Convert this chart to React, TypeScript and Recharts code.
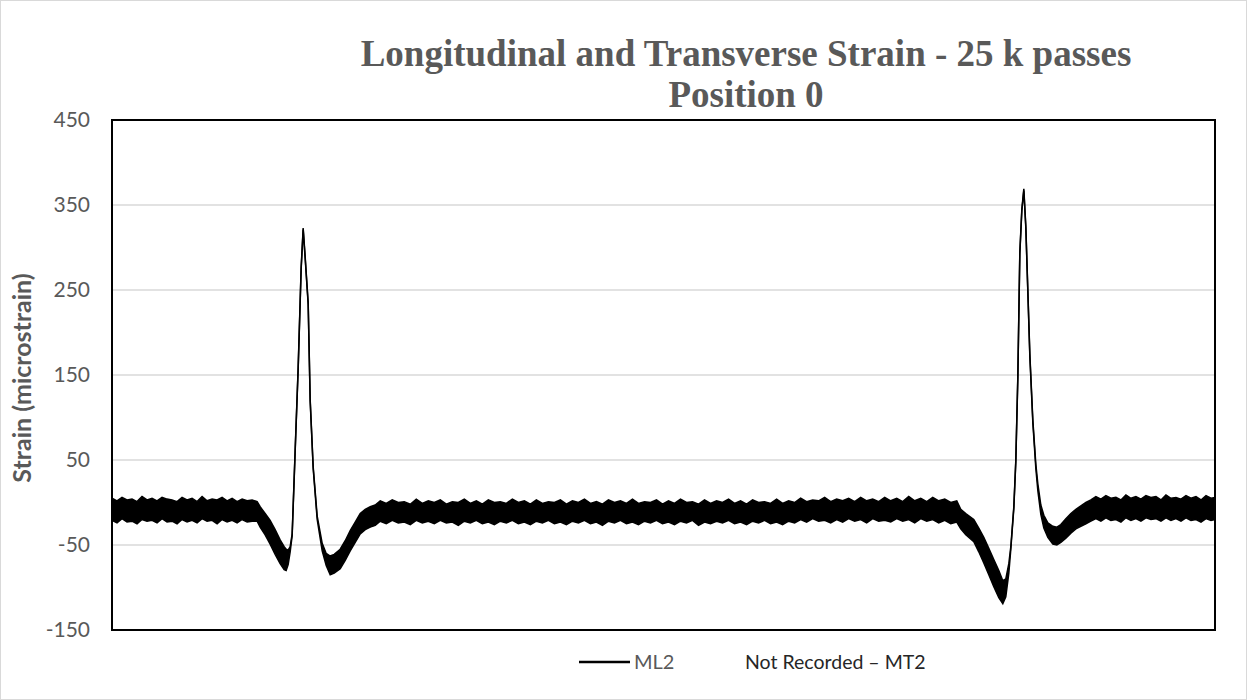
import React from 'react';
import { ComposedChart, Area, XAxis, YAxis, CartesianGrid } from 'recharts';

// x = sample position along the record, band = noisy strain envelope (microstrain)
const leftFlatX = [0, 5, 10, 15, 20, 25, 30, 35, 40, 45, 50, 55, 60, 65, 70, 75, 80, 85, 90, 95, 100, 105, 110, 115, 120, 125, 130, 135, 140];
const leftFlatHi = [5, 2, 6, 3, 4, 1, 7, 3, 5, 2, 6, 4, 3, 1, 6, 3, 5, 1, 7, 2, 4, 3, 6, 2, 5, 1, 4, 2, 3];
const leftFlatLo = [-21, -24, -19, -23, -22, -25, -20, -22, -21, -24, -19, -23, -22, -25, -20, -23, -21, -24, -19, -22, -21, -25, -20, -23, -21, -24, -20, -23, -22];

const leftPeakX = [145, 148, 153, 158, 163, 168, 172, 174, 176, 178, 180, 183, 186, 189, 191, 193, 196, 198, 201, 205, 210, 214, 218, 222, 228, 233, 238, 243, 248, 253, 258, 263];
const leftPeakHi = [1, -5, -13, -21, -32, -44, -52, -55, -56, -52, -37, 62, 159, 277, 323, 289, 235, 121, 42, -16, -48, -60, -63, -61, -55, -45, -33, -23, -13, -8, -5, -3];
const leftPeakLo = [-22, -29, -38, -49, -61, -72, -79, -80, -73, -58, -39, 60, 157, 275, 321, 287, 233, 119, 40, -20, -57, -74, -85, -83, -78, -68, -57, -47, -37, -32, -29, -27];

const midFlatX = [
  268, 274, 280, 286, 292, 298, 304, 310, 316, 322, 328, 334, 340, 346, 352, 358, 364, 370, 376, 382,
  388, 394, 400, 406, 412, 418, 424, 430, 436, 442, 448, 454, 460, 466, 472, 478, 484, 490, 496, 502,
  508, 514, 520, 526, 532, 538, 544, 550, 556, 562, 568, 574, 580, 586, 592, 598, 604, 610, 616, 622,
  628, 634, 640, 646, 652, 658, 664, 670, 676, 682, 688, 694, 700, 706, 712, 718, 724, 730, 736, 742,
  748, 754, 760, 766, 772, 778, 784, 790, 796, 802, 808, 814, 820, 826, 832, 838, 844,
];
const midFlatHi = [
  2, -1, 3, 0, 1, -2, 4, -1, 2, 0, 3, -2, 1, 0, 4, -1, 2, -2, 3, 0,
  1, -1, 4, 0, 2, -2, 3, -1, 1, 0, 3, -2, 2, 0, 4, -1, 1, -2, 3, 0,
  2, -1, 4, -1, 1, 0, 3, -2, 2, -1, 4, 0, 1, -2, 3, -1, 2, 0, 4, -1,
  2, -2, 3, 0, 1, -1, 4, -1, 2, 0, 5, 1, 3, 2, 6, 1, 4, 2, 5, 1,
  6, 2, 4, 1, 6, 2, 5, 1, 7, 2, 5, 1, 6, 2, 4, 0, 2,
];
const midFlatLo = [
  -22, -25, -21, -24, -23, -26, -21, -24, -22, -25, -21, -24, -23, -27, -22, -24, -21, -25, -23, -26,
  -22, -24, -21, -25, -23, -26, -22, -24, -21, -25, -23, -26, -22, -24, -21, -25, -23, -27, -22, -24,
  -21, -25, -23, -26, -22, -24, -21, -25, -23, -26, -22, -24, -21, -27, -23, -25, -22, -24, -21, -25,
  -23, -26, -22, -24, -21, -25, -23, -26, -22, -24, -20, -23, -19, -22, -21, -24, -20, -23, -19, -22,
  -20, -24, -19, -22, -21, -23, -19, -22, -20, -24, -19, -22, -20, -24, -21, -25, -23,
];

const rightPeakX = [848, 853, 861, 866, 871, 876, 881, 886, 890, 893, 896, 898, 901, 903, 905, 907, 909, 911, 913, 915, 917, 920, 923, 925, 928, 931, 935, 940, 944, 948, 953, 958, 963, 968, 973, 978];
const rightPeakHi = [-8, -13, -20, -30, -41, -54, -67, -80, -92, -90, -72, -52, -5, 50, 148, 294, 345, 369, 325, 250, 175, 97, 45, 22, -3, -15, -24, -28, -29, -26, -19, -13, -8, -4, 0, 3];
const rightPeakLo = [-31, -38, -46, -58, -71, -85, -99, -112, -119, -111, -83, -55, -7, 48, 146, 292, 343, 367, 323, 248, 172, 94, 40, 14, -14, -30, -41, -49, -50, -47, -42, -36, -31, -28, -25, -22];

const rightFlatX = [983, 988, 993, 998, 1003, 1008, 1013, 1018, 1023, 1028, 1033, 1038, 1043, 1048, 1053, 1058, 1063, 1068, 1073, 1078, 1083, 1088, 1093, 1098, 1102];
const rightFlatHi = [7, 4, 8, 5, 6, 3, 9, 5, 7, 4, 8, 6, 7, 3, 9, 5, 6, 4, 8, 5, 7, 3, 8, 5, 6];
const rightFlatLo = [-19, -22, -18, -21, -20, -23, -18, -21, -19, -22, -18, -20, -19, -22, -18, -21, -19, -22, -18, -21, -20, -23, -19, -21, -20];

const yTicks = [-150, -50, 50, 150, 250, 350, 450];

const sampleX = [...leftFlatX, ...leftPeakX, ...midFlatX, ...rightPeakX, ...rightFlatX];
const upper = [...leftFlatHi, ...leftPeakHi, ...midFlatHi, ...rightPeakHi, ...rightFlatHi];
const lower = [...leftFlatLo, ...leftPeakLo, ...midFlatLo, ...rightPeakLo, ...rightFlatLo];

const data = sampleX.map((x, i) => ({ x, band: [lower[i], upper[i]] }));

const sans = 'Lato, "Open Sans", sans-serif';
const serif = '"Liberation Serif", "Times New Roman", serif';

export default function App() {
  return (
    <div
      style={{
        position: 'absolute',
        left: 0,
        top: 0,
        width: 1247,
        height: 700,
        boxSizing: 'border-box',
        border: '1px solid #d9d9d9',
        background: '#fff',
      }}
    >
      <div style={{ position: 'absolute', left: -1, top: -1 }}>
        <ComposedChart width={1247} height={700} data={data} margin={{ top: 120, right: 32, bottom: 70, left: 0 }}>
          <CartesianGrid vertical={false} stroke="#d9d9d9" strokeWidth={1.5} />
          <XAxis type="number" dataKey="x" domain={[0, 1102]} hide />
          <YAxis
            type="number"
            domain={[-150, 450]}
            ticks={yTicks}
            interval={0}
            width={112}
            axisLine={false}
            tickLine={false}
            tickSize={0}
            tickMargin={22}
            tick={{ fill: '#595959', fontSize: 21, fontFamily: sans }}
          />
          <Area
            type="linear"
            dataKey="band"
            name="ML2"
            stroke="#000"
            strokeWidth={1.5}
            fill="#000"
            fillOpacity={1}
            dot={false}
            activeDot={false}
            isAnimationActive={false}
          />
        </ComposedChart>
      </div>

      {/* plot frame */}
      <div
        style={{
          position: 'absolute',
          left: 110,
          top: 118,
          width: 1105,
          height: 512,
          boxSizing: 'border-box',
          border: '2px solid #000',
          pointerEvents: 'none',
        }}
      />

      <svg width={1247} height={700} style={{ position: 'absolute', left: -1, top: -1, pointerEvents: 'none' }}>
        <text x={746} y={66} textAnchor="middle" fill="#595959" fontFamily={serif} fontWeight="bold" fontSize={37}>
          Longitudinal and Transverse Strain - 25 k passes
        </text>
        <text x={746} y={107} textAnchor="middle" fill="#595959" fontFamily={serif} fontWeight="bold" fontSize={37}>
          Position 0
        </text>
        <text
          x={0}
          y={0}
          transform="translate(31 378) rotate(-90)"
          textAnchor="middle"
          fill="#595959"
          fontFamily={sans}
          fontWeight="bold"
          fontSize={25}
        >
          Strain (microstrain)
        </text>

        {/* legend */}
        <line x1={579} y1={662} x2={630} y2={662} stroke="#000" strokeWidth={2.5} />
        <text x={634} y={669} fill="#595959" fontFamily={sans} fontSize={20}>
          ML2
        </text>
        <text x={745} y={669} fill="#262626" fontFamily={sans} fontSize={19.5}>
          Not Recorded – MT2
        </text>
      </svg>
    </div>
  );
}
